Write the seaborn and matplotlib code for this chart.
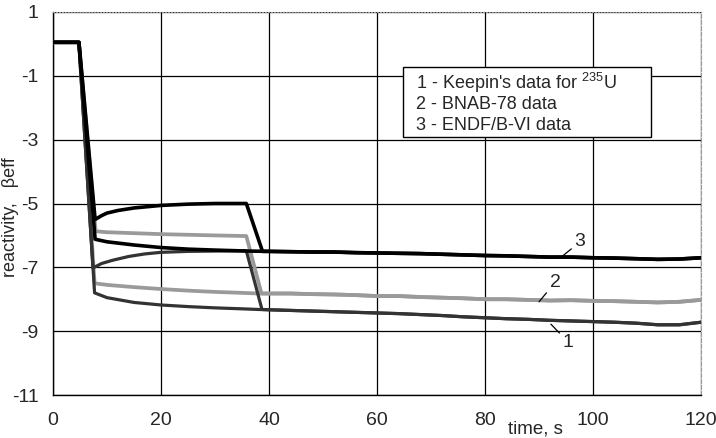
import matplotlib
matplotlib.use("Agg")
import matplotlib.pyplot as plt
import seaborn as sns
import pandas as pd
from matplotlib.patches import Rectangle

# ---------------- data ----------------
tail_t = [40, 44, 48, 52, 56, 60, 64, 68, 72, 76, 80, 84, 88, 92, 96, 100, 104, 108, 112, 116, 120]
s3_tail = [-6.50, -6.51, -6.52, -6.52, -6.54, -6.55, -6.56, -6.57, -6.59, -6.61, -6.63,
           -6.64, -6.66, -6.68, -6.68, -6.70, -6.71, -6.73, -6.75, -6.74, -6.70]
s2_tail = [-7.82, -7.82, -7.84, -7.85, -7.87, -7.90, -7.90, -7.93, -7.95, -7.97, -8.00,
           -8.00, -8.02, -8.04, -8.03, -8.05, -8.06, -8.08, -8.10, -8.08, -8.02]
s1_tail = [-8.33, -8.35, -8.37, -8.39, -8.41, -8.43, -8.45, -8.48, -8.51, -8.55, -8.58,
           -8.61, -8.63, -8.66, -8.68, -8.70, -8.72, -8.75, -8.80, -8.80, -8.72]

# ENDF/B-VI (3): two traces
s3a_t = [0, 4.8, 7.8, 9, 10, 12, 15, 20, 25, 30, 35.8, 38.8]
s3a_v = [0.05, 0.05, -5.50, -5.38, -5.30, -5.22, -5.14, -5.06, -5.02, -5.00, -5.00, -6.50]
s3b_t = [0, 4.8, 7.8, 10, 15, 20, 25, 30, 36]
s3b_v = [0.05, 0.05, -6.12, -6.20, -6.30, -6.38, -6.43, -6.46, -6.49]
# BNAB-78 (2)
s2a_t = [0, 4.8, 7.9, 10, 15, 20, 25, 30, 35.8, 38.6]
s2a_v = [0.05, 0.05, -5.87, -5.90, -5.93, -5.96, -5.98, -6.00, -6.02, -7.82]
s2b_t = [0, 4.8, 7.7, 10, 15, 20, 25, 30, 35, 38]
s2b_v = [0.05, 0.05, -7.50, -7.55, -7.62, -7.68, -7.73, -7.77, -7.80, -7.82]
# Keepin (1)
s1a_t = [0, 4.8, 7.4, 9, 11, 14, 17, 20, 25, 30, 35.8, 38.7]
s1a_v = [0.05, 0.05, -7.02, -6.88, -6.78, -6.66, -6.58, -6.53, -6.50, -6.49, -6.48, -8.32]
s1b_t = [0, 4.8, 7.7, 10, 15, 20, 25, 30, 35, 38]
s1b_v = [0.05, 0.05, -7.80, -7.95, -8.10, -8.18, -8.23, -8.27, -8.30, -8.32]

legend_lines = ["1 - Keepin's data for $\\mathregular{^{235}}$U",
                "2 - BNAB-78 data",
                "3 - ENDF/B-VI data"]
x_ticks = [0, 20, 40, 60, 80, 100, 120]
y_ticks = [1, -1, -3, -5, -7, -9, -11]

# ---------------- build table ----------------
traces = {
    "2a": (s2a_t, s2a_v, s2_tail), "2b": (s2b_t, s2b_v, s2_tail),
    "1a": (s1a_t, s1a_v, s1_tail), "1b": (s1b_t, s1b_v, s1_tail),
    "3a": (s3a_t, s3a_v, s3_tail), "3b": (s3b_t, s3b_v, s3_tail),
}
rows = []
for name, (tt, vv, tail) in traces.items():
    for t, v in zip(tt + tail_t, vv + tail):
        rows.append({"trace": name, "time": t, "reactivity": v})
df = pd.DataFrame(rows)

style = {"1": ("#333333", 2.3), "2": ("#9a9a9a", 2.7), "3": ("#000000", 2.6)}

# ---------------- figure ----------------
sns.set_style("white")
plt.rcParams["font.family"] = ["Liberation Sans", "DejaVu Sans"]
plt.rcParams["mathtext.fontset"] = "custom"
plt.rcParams["mathtext.rm"] = "Liberation Sans"
plt.rcParams["axes.unicode_minus"] = False

fig = plt.figure(figsize=(7.16, 4.38), dpi=100)
ax = fig.add_axes([53 / 716, 1 - 395 / 438, 648 / 716, 383 / 438])

for name in ["2a", "2b", "1a", "1b", "3a", "3b"]:
    sub = df[df["trace"] == name]
    col, lw = style[name[0]]
    sns.lineplot(data=sub, x="time", y="reactivity", ax=ax, color=col,
                 linewidth=lw, estimator=None, sort=False, legend=False, zorder=3)

ax.set_xlim(0, 120)
ax.set_ylim(-11, 1)
ax.set_xticks(x_ticks)
ax.set_yticks(y_ticks)
ax.set_yticklabels([str(v) for v in y_ticks])
ax.grid(True, color="black", linewidth=0.9)
ax.set_axisbelow(True)
for s in ["left", "bottom"]:
    ax.spines[s].set_color("black")
    ax.spines[s].set_linewidth(1.0)
ax.spines["top"].set_color("#999999")
ax.spines["top"].set_linestyle(":")
ax.spines["right"].set_color("#999999")
ax.spines["right"].set_linestyle("--")
ax.tick_params(axis="both", direction="inout", length=7, width=1, color="black",
               labelsize=14)
ax.tick_params(axis="x", pad=9)
ax.tick_params(axis="y", pad=7)
ax.set_xlabel("")
ax.set_ylabel("")
ax.text(0.744, -0.088, "time, s", transform=ax.transAxes, ha="center", va="center",
        fontsize=13.5)
fig.text(11 / 716, 1 - 217 / 438, "reactivity,   \u03b2eff", rotation=90,
         ha="center", va="center", fontsize=13)

# legend box (text only)
ax.add_patch(Rectangle((64.8, -2.92), 45.9, 2.2, facecolor="white",
                       edgecolor="black", linewidth=1.0, zorder=4))
for txt, yv in zip(legend_lines, [-1.22, -1.89, -2.55]):
    ax.text(67.2, yv, txt, ha="left", va="center", fontsize=13, zorder=5)

# curve labels with leader lines
ann = dict(arrowprops=dict(arrowstyle="-", color="black", lw=0.9,
                           shrinkA=0, shrinkB=0), ha="center", va="center",
           fontsize=14)
ax.annotate("3", xy=(94.4, -6.64), xytext=(97.6, -6.2), **ann)
ax.annotate("2", xy=(90.0, -8.08), xytext=(93.0, -7.47), **ann)
ax.annotate("1", xy=(92.2, -8.78), xytext=(95.4, -9.34), **ann)

fig.savefig("out.png", dpi=100)
